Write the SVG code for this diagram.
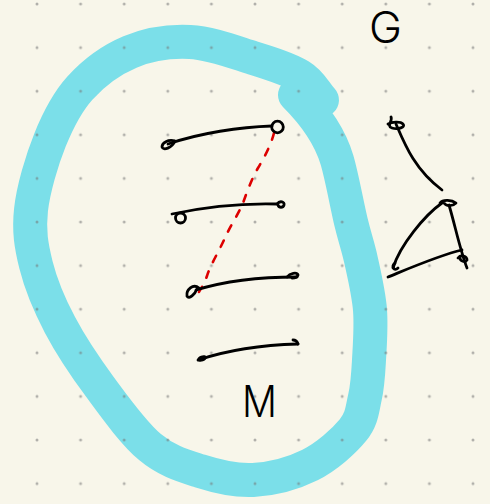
<svg xmlns="http://www.w3.org/2000/svg" width="490" height="504" viewBox="0 0 490 504">
<defs>
<pattern id="grid" patternUnits="userSpaceOnUse" x="15.2" y="-17.8" width="43.6" height="43.6">
<circle cx="21.8" cy="21.8" r="1.5" fill="#777" fill-opacity="0.55"/>
</pattern>
<style>
.ink{fill:none;stroke:#000;stroke-width:2.8;stroke-linecap:round;stroke-linejoin:round}
.red{fill:none;stroke:#DD0000;stroke-width:2.6;stroke-linecap:round;stroke-dasharray:7 10}
.cyan{fill:none;stroke:#7BDFE9;stroke-width:34;stroke-linecap:round;stroke-linejoin:round}
.hand{font-family:Inter,"Liberation Sans",sans-serif;font-weight:300;fill:#000}
</style>
</defs>
<rect width="490" height="504" fill="#F8F6EA"/>
<g id="loop">
<path class="cyan" d="M 322,100 C 314.7,92 311.5,83 300,76 C 288.5,69 271.3,63.7 253,58 C 234.7,52.3 210.5,43 190,42 C 169.5,41 148.3,44.3 130,52 C 111.7,59.7 93.3,73.3 80,88 C 66.7,102.7 58.2,119.7 50,140 C 41.8,160.3 33.3,189.2 31,210 C 28.7,230.8 31.2,245.8 36,265 C 40.8,284.2 49.3,304.7 60,325 C 70.7,345.3 85,366.7 100,387 C 115,407.3 133.3,433 150,447 C 166.7,461 182.8,465.5 200,471 C 217.2,476.5 234.7,481 253,480 C 271.3,479 293.3,473.3 310,465 C 326.7,456.7 343.8,441.3 353,430 C 362.2,418.7 362.3,408.7 365,397 C 367.7,385.3 368.2,374.5 369,360 C 369.8,345.5 371.3,326.7 370,310 C 368.7,293.3 364.2,274.7 361,260 C 357.8,245.3 355,238.7 351,222 C 347,205.3 341.8,176.2 337,160 C 332.2,143.8 322,122 295,95"/>
</g>
<rect width="490" height="504" fill="url(#grid)"/>
<g id="connectors">
<path class="red" d="M 274,133 C 271,145 264,158 258,168 C 252,178 247,192 243,203 C 239,213 229,228 224,240 C 219,251 210,266 207,276 C 204,284 200,290 199,292"/>
</g>
<g id="line1">
<path class="ink" d="M 175,141 C 168,139 162,143 162,147 C 163,151 172,148 175,141"/>
<path class="ink" d="M 168,144 C 200,133 240,127 272,126"/>
<circle class="ink" cx="277.5" cy="127" r="5.8"/>
</g>
<g id="line2">
<circle class="ink" cx="180.5" cy="218" r="5"/>
<path class="ink" d="M 172,214 C 200,208 240,203 277,204"/>
<path class="ink" d="M 277,204 C 280,200 285,202 284,205 C 283,208 279,208 278,205"/>
</g>
<g id="line3">
<path class="ink" d="M 199,288 C 193,283 186,290 187,296 C 189,300 195,294 197,289"/>
<path class="ink" d="M 196,290 C 225,281 262,277 297,277"/>
<path class="ink" d="M 287,277 C 290,273 297,272 298,275 C 297,278 294,278 292,278"/>
</g>
<g id="line4">
<ellipse cx="202" cy="358.5" rx="5" ry="3" transform="rotate(-20 202 358.5)" fill="#000"/>
<path class="ink" d="M 198,360 C 225,351 260,345 298,344"/>
<path class="ink" d="M 298,344 C 297,341 295,340 293,340"/>
</g>
<g id="G">
<text class="hand" x="369" y="43" font-size="44" textLength="33" lengthAdjust="spacingAndGlyphs">G</text>
</g>
<g id="triangle">
<path class="ink" d="M 391,117 C 393,121 386,126 392,128 C 398,130 406,127 403,124 C 400,121 392,122 388,124"/>
<path class="ink" d="M 396,124 C 405,145 415,170 442,190"/>
<path class="ink" d="M 440,203 C 443,199 452,200 456,203 C 452,207 446,206 444,203"/>
<path class="ink" d="M 442,203 C 425,215 400,245 393,268"/>
<path class="ink" d="M 395,263 C 391,266 394,272 398,268"/>
<path class="ink" d="M 388,277 C 410,268 440,255 462,250"/>
<path class="ink" d="M 449,205 C 455,225 460,250 467,268"/>
<path class="ink" d="M 458,258 C 461,254 467,256 467,260 C 465,263 460,261 460,258"/>
</g>
<g id="M">
<text class="hand" x="242" y="417" font-size="44" textLength="35" lengthAdjust="spacingAndGlyphs">M</text>
</g>
</svg>
